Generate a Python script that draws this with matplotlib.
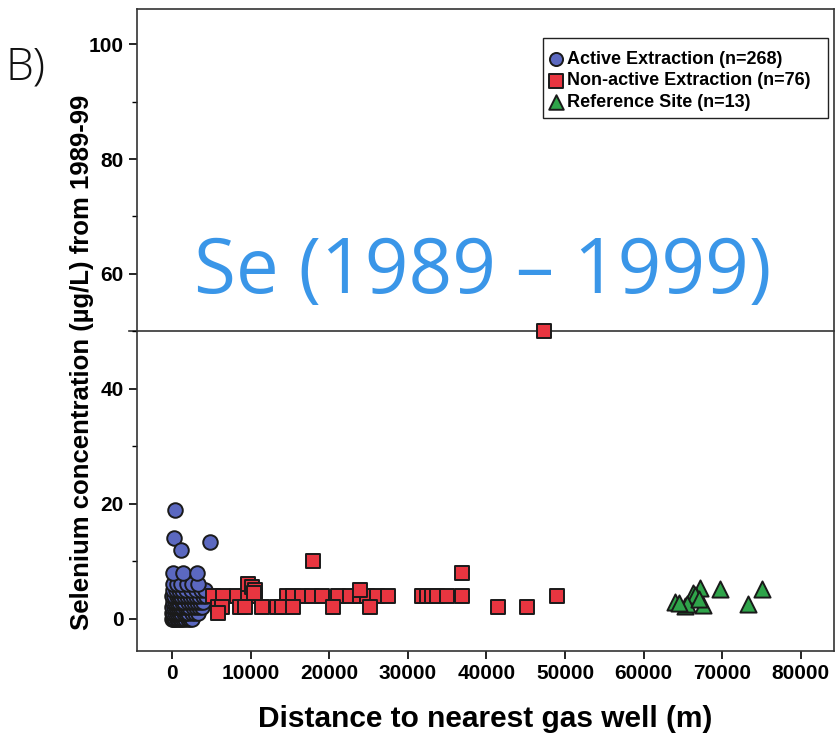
import matplotlib
matplotlib.use('Agg')
import matplotlib.pyplot as plt
from matplotlib.patches import Rectangle
from matplotlib.ticker import MultipleLocator

plt.rcParams['font.family'] = ['Liberation Sans', 'DejaVu Sans']

# Active extraction sites (blue circles): distance (m), Se (ug/L)
active_x = [0, 150, 300, 450, 600, 800, 1000, 1200, 1400, 1700, 2000, 2300, 2600,
            0, 200, 400, 700, 900, 1100, 1500, 1800, 2100, 2500, 2900, 3300,
            50, 250, 500, 750, 1000, 1300, 1600, 1900, 2200, 2700, 3000, 3500, 3800,
            100, 350, 650, 950, 1250, 1550, 2000, 2400, 2800, 3200, 3600, 4000,
            0, 300, 600, 900, 1200, 1500, 1900, 2300, 2700, 3100, 3400, 3900, 4300,
            150, 500, 850, 1300, 1800, 2400, 3000, 3700, 4200,
            200, 700, 1200, 1900, 2600, 3300,
            170, 1440, 3140,
            380, 300, 1150, 4830]
active_y = [0] * 13 + [1] * 12 + [2] * 13 + [3] * 12 + [4] * 13 + [5] * 9 + [6] * 6 + \
           [8, 8, 8] + [19, 14, 12, 13.3]

# Non-active extraction sites (red squares)
nonactive_x = [5260, 6530, 8230, 9710, 10560, 14590, 15430, 16500, 17770, 19040,
               21160, 22650, 23920, 24770, 26040, 27520, 31970, 32600,
               5890, 6320, 8650, 9290, 11410, 13320, 13950, 15430, 20520, 25190,
               5800, 9700, 10200, 10600, 10400, 17960, 23900,
               31770, 32400, 33040, 33680, 34950, 36860, 36860,
               41520, 45130, 48940, 47300]
nonactive_y = [4] * 18 + [2] * 10 + [1, 6, 5.5, 5, 4.5, 10, 5] + \
              [4, 4, 4, 4, 4, 4, 8] + [2, 2, 4, 50]

# Reference sites (green triangles)
reference_x = [64000, 65270, 66330, 67180, 67600, 69720, 73320, 75020,
               66700, 66500, 65500, 67000, 64500]
reference_y = [3.0, 2.3, 4.5, 5.3, 2.4, 5.2, 2.6, 5.2, 3.9, 4.2, 2.5, 3.5, 2.8]

fig = plt.figure(figsize=(8.35, 7.4), dpi=100)
ax = fig.add_axes([0.164, 0.1203, 0.8348, 0.8675])

ax.axhline(50, xmin=-0.012, xmax=1, color='#333333', lw=1.2, clip_on=False, zorder=1)

mk = dict(s=110, edgecolors='#1a1a1a', linewidths=1.4, zorder=3)
ax.scatter(active_x, active_y, marker='o', c='#5b68c0', label='Active Extraction (n=268)', **mk)
ax.scatter(nonactive_x, nonactive_y, marker='s', c='#e83540', label='Non-active Extraction (n=76)', **mk)
ax.scatter(reference_x, reference_y, marker='^', c='#2fa44a', label='Reference Site (n=13)', s=135,
           edgecolors='#1a1a1a', linewidths=1.4, zorder=4)

ax.set_xlim(-4450, 84220)
ax.set_ylim(-5.6, 106.1)
ax.set_xticks(range(0, 80001, 10000))
ax.set_yticks(range(0, 101, 20))
ax.yaxis.set_minor_locator(MultipleLocator(10))
ax.tick_params(which='major', length=6, width=1.2, labelsize=15, direction='out')
ax.tick_params(which='minor', length=3.5, width=1.0, direction='out')
ax.tick_params(axis='x', which='minor', bottom=False)
for lab in ax.get_xticklabels() + ax.get_yticklabels():
    lab.set_fontweight('bold')
for sp in ax.spines.values():
    sp.set_linewidth(1.2)
    sp.set_color('#333333')

ax.set_xlabel('Distance to nearest gas well (m)', fontsize=21.5, fontweight='bold', labelpad=16)
ax.set_ylabel('Selenium concentration (\u00b5g/L) from 1989-99', fontsize=18.5, fontweight='bold')
ax.yaxis.set_label_coords(-0.061, 0.45)

# legend with its own frame
ax.add_patch(Rectangle((0.5825, 0.830), 0.4089, 0.1248, transform=ax.transAxes,
                       fill=False, edgecolor='#222222', lw=1.0, zorder=5))
leg = ax.legend(loc='upper left', bbox_to_anchor=(0.588, 0.935), frameon=False,
                borderaxespad=0, borderpad=0, handletextpad=0.1, labelspacing=0.25,
                handlelength=1.0, markerscale=0.9,
                prop={'weight': 'bold', 'size': 13})

fig.text(0.578, 0.632, 'Se (1989 \u2013 1999)', fontsize=55, color='#3a96e8',
         family=['Open Sans', 'DejaVu Sans'], ha='center', va='center')
fig.text(0.031, 0.908, 'B)', fontsize=32, color='#111111',
         family=['Open Sans', 'DejaVu Sans'], fontweight='light', ha='center', va='center')

fig.savefig('out.png', dpi=100)
